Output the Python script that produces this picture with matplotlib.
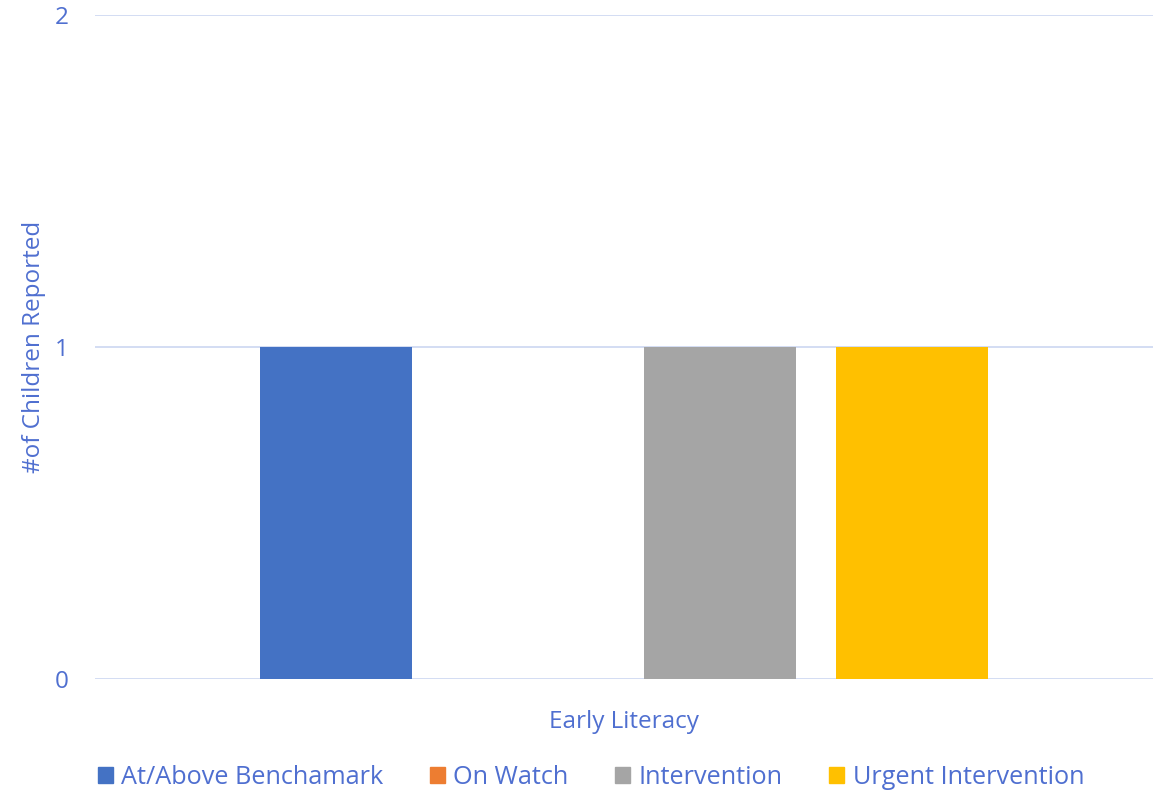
import numpy as np
import matplotlib.pyplot as plt
from matplotlib.patches import Patch

# Données
category = "Early Literacy"
series = ["At/Above Benchamark", "On Watch", "Intervention", "Urgent Intervention"]
values = [1, 0, 1, 1]
colors = ["#4472C4", "#ED7D31", "#A5A5A5", "#FFC000"]
yticks = [0, 1, 2]

txt = "#4F6FD0"
fs = 17.5
plt.rcParams['font.family'] = ['Open Sans', 'DejaVu Sans']

fig = plt.figure(figsize=(11.58, 7.92), dpi=100)
ax = fig.add_axes([95/1158, 113/792, 1058/1158, 664/792])

w = 152/1058
step = 192/1058
offs = (np.arange(len(series)) - 1.5) * step
for i in range(len(series)):
    ax.bar(offs[i], values[i], width=w, color=colors[i], zorder=3)

ax.set_xlim(-0.5, 0.5)
ax.set_ylim(0, 2)
ax.set_yticks(yticks)
ax.set_xticks([])
ax.grid(axis='y', color='#D0DAF2', linewidth=1.3, zorder=0)
for s in ax.spines.values():
    s.set_visible(False)
ax.tick_params(axis='y', length=0, pad=19, labelsize=fs, labelcolor=txt)
ax.set_ylabel("#of Children Reported", fontsize=fs, color=txt, labelpad=6)
ax.set_xlabel(category, fontsize=fs, color=txt, labelpad=22)

handles = [Patch(color=c) for c in colors]
fig.legend(handles, series, loc='center left', bbox_to_anchor=(75/1158, 1 - 777/792), ncol=4,
           frameon=False, fontsize=18.2, labelcolor=txt, handlelength=0.6,
           handleheight=0.6, handletextpad=0.32, columnspacing=1.85)

fig.savefig("out.png", dpi=100)
